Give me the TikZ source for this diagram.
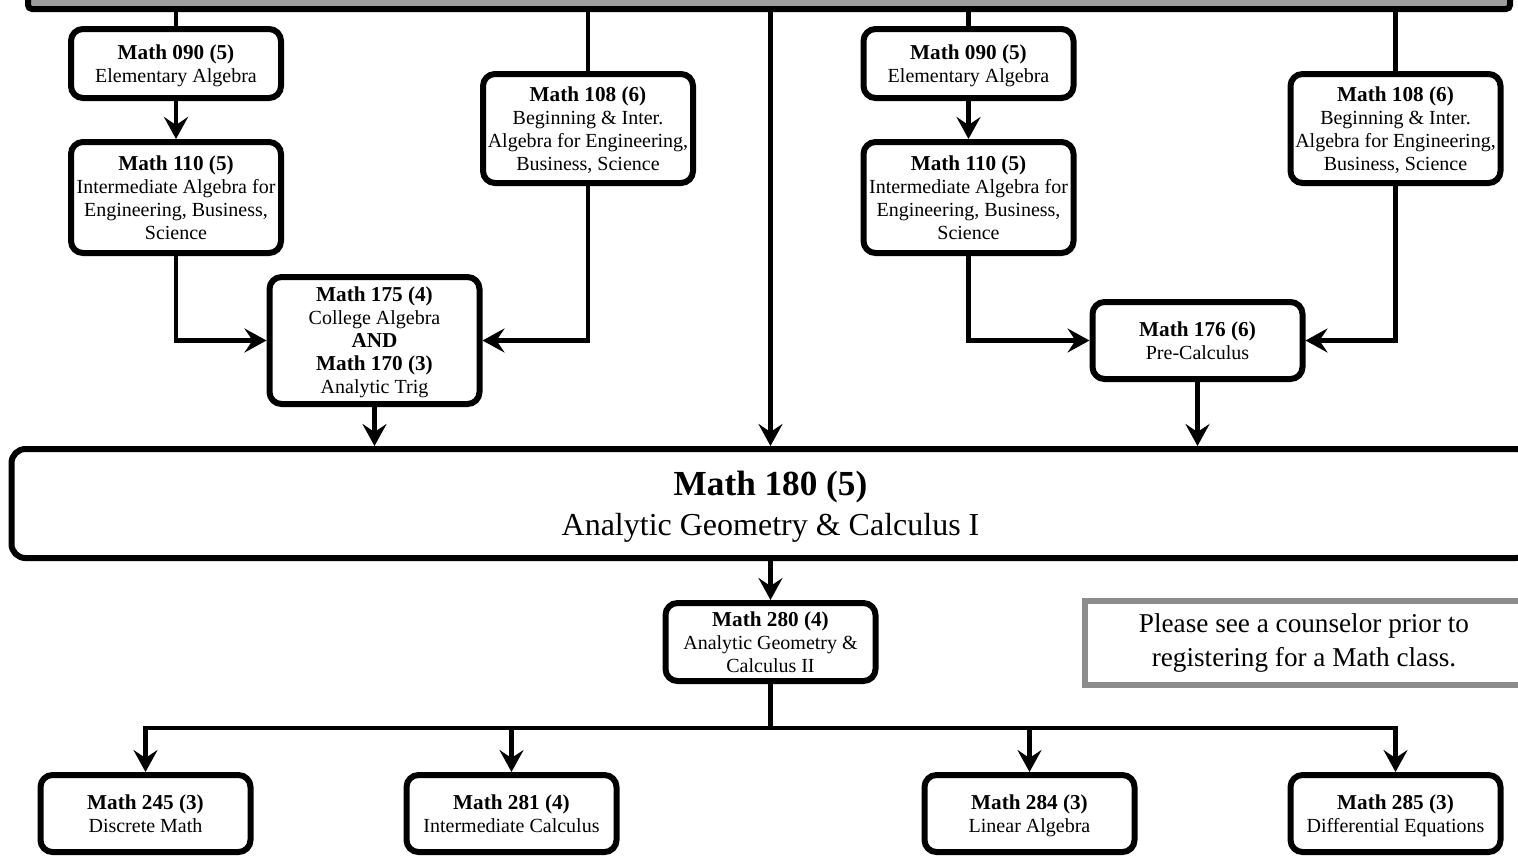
\documentclass[tikz,border=0pt]{standalone}
\usepackage{fontspec}
\setmainfont{Liberation Serif}
\usetikzlibrary{arrows.meta,positioning}

\definecolor{bargray}{RGB}{158,158,158}
\definecolor{notegray}{RGB}{140,140,140}

\newcommand{\ctitle}[1]{{\fontsize{10.6}{11.5}\selectfont\textbf{#1}}}

\begin{document}
\begin{tikzpicture}[x=0.5pt,y=-0.5pt,>={Stealth[length=11pt,width=12pt,inset=4pt]},
                    line width=2.2pt,node distance=19pt,
                    course/.style={draw,line width=3pt,rounded corners=6pt,fill=white,
                      minimum width=105pt,inner sep=1pt,align=center,text depth=0pt,
                      font=\fontsize{10}{11.5}\selectfont,
                      execute at begin node={\rule{0pt}{12.5pt}}},
                    bigcourse/.style={draw,line width=3pt,rounded corners=7pt,fill=white,
                      minimum width=759pt,minimum height=54.5pt,align=center,text depth=0pt,
                      font=\fontsize{16}{20}\selectfont,
                      execute at begin node={\rule{0pt}{16.5pt}}},
                    notebox/.style={draw=notegray,line width=3.2pt,minimum width=218.8pt,
                      minimum height=41.8pt,align=center,font=\fontsize{13.6}{17}\selectfont}]

  \useasboundingbox (0,0) rectangle (1518,857);
  \clip (0,0) rectangle (1518,857);

  \node[draw,fill=bargray,line width=3pt,rounded corners=2pt,
        minimum width=741pt,minimum height=31pt] (src) at (769,-22) {};

  % left track
  \node[course,minimum height=34.5pt] (m090l) at (176,63.5)
        {\ctitle{Math 090 (5)}\\Elementary Algebra};
  \node[course,minimum height=55.5pt] (m110l) [below=of m090l]
        {\ctitle{Math 110 (5)}\\Intermediate Algebra for\\Engineering, Business,\\Science};
  \node[course,minimum height=54.5pt] (m108l) at (588,128.5)
        {\ctitle{Math 108 (6)}\\Beginning \& Inter.\\Algebra for Engineering,\\Business, Science};
  \node[course,minimum height=63.5pt] (m175) at (374.5,340.5)
        {\ctitle{Math 175 (4)}\\College Algebra\\\ctitle{AND}\\\ctitle{Math 170 (3)}\\Analytic Trig};

  % right track
  \node[course,minimum height=34.5pt] (m090r) at (968.5,63.5)
        {\ctitle{Math 090 (5)}\\Elementary Algebra};
  \node[course,minimum height=55.5pt] (m110r) [below=of m090r]
        {\ctitle{Math 110 (5)}\\Intermediate Algebra for\\Engineering, Business,\\Science};
  \node[course,minimum height=54.5pt] (m108r) at (1395.5,128.5)
        {\ctitle{Math 108 (6)}\\Beginning \& Inter.\\Algebra for Engineering,\\Business, Science};
  \node[course,minimum height=38.5pt] (m176) at (1197.5,340.5)
        {\ctitle{Math 176 (6)}\\Pre-Calculus};

  \node[bigcourse] (m180) at (770.5,503.5)
        {{\fontsize{17.6}{20}\selectfont\textbf{Math 180 (5)}}\\Analytic Geometry \& Calculus I};
  \node[course,minimum height=39pt] (m280) at (770.5,642)
        {\ctitle{Math 280 (4)}\\Analytic Geometry \&\\Calculus II};
  \node[notebox] (note) at (1304,643)
        {Please see a counselor prior to\\registering for a Math class.};

  % bottom row
  \node[course,minimum height=38.5pt] (m245) at (145.5,813.5)
        {\ctitle{Math 245 (3)}\\Discrete Math};
  \node[course,minimum height=38.5pt] (m281) at (511.5,813.5)
        {\ctitle{Math 281 (4)}\\Intermediate Calculus};
  \node[course,minimum height=38.5pt] (m284) at (1029.5,813.5)
        {\ctitle{Math 284 (3)}\\Linear Algebra};
  \node[course,minimum height=38.5pt] (m285) at (1395.5,813.5)
        {\ctitle{Math 285 (3)}\\Differential Equations};

  \coordinate (split) at (770.5,728);

  \draw (m090l |- src.south) -- (m090l);
  \draw (m108l |- src.south) -- (m108l);
  \draw (m090r |- src.south) -- (m090r);
  \draw (m108r |- src.south) -- (m108r);
  \draw[->] (m180.north |- src.south) -- (m180);

  \path[->] (m090l) edge (m110l)
            (m090r) edge (m110r)
            (m175) edge (m175 |- m180.north)
            (m176) edge (m176 |- m180.north)
            (m180) edge (m280);
  \draw[->] (m110l) |- (m175);
  \draw[->] (m108l) |- (m175);
  \draw[->] (m110r) |- (m176);
  \draw[->] (m108r) |- (m176);

  \draw (m280) -- (split);
  \draw[->] (split) -| (m245);
  \draw[->] (split) -| (m281);
  \draw[->] (split) -| (m284);
  \draw[->] (split) -| (m285);
\end{tikzpicture}
\end{document}
